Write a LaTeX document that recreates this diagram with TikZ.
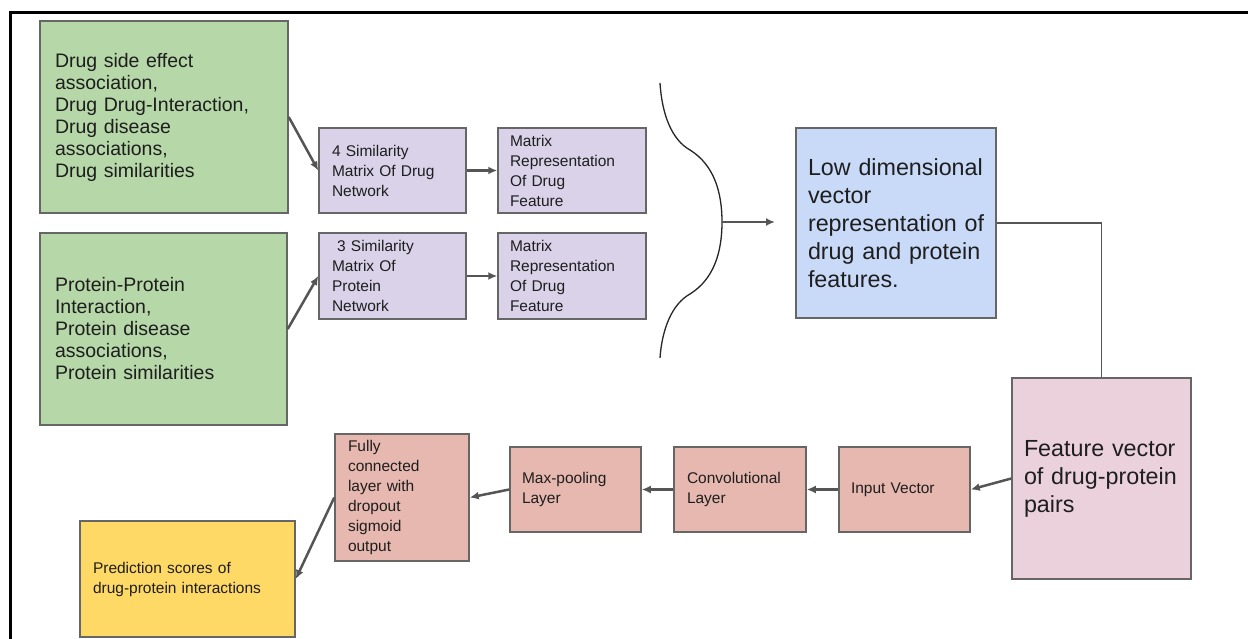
\documentclass[tikz,border=0pt]{standalone}
\usepackage{fontspec}
\setmainfont{Liberation Sans}
\usetikzlibrary{arrows.meta}
\definecolor{bordergray}{HTML}{666666}
\definecolor{arrowgray}{HTML}{555555}
\definecolor{cgreen}{HTML}{B6D7A8}
\definecolor{cpurple}{HTML}{D9D2E9}
\definecolor{cblue}{HTML}{C9DAF8}
\definecolor{cpink}{HTML}{EAD1DC}
\definecolor{csalmon}{HTML}{E6B8AF}
\definecolor{cyellow}{HTML}{FFD966}
\definecolor{txt}{HTML}{1E1E1E}
\tikzset{
  box/.style={draw=bordergray, line width=1.5pt, inner ysep=0pt, align=left, text=txt},
  bigfont/.style={font=\fontsize{23.3}{28}\selectfont},
  midfont/.style={font=\fontsize{19.5}{22}\selectfont},
  smallfont/.style={font=\fontsize{15.5}{20}\selectfont},
  conn/.style={draw=arrowgray, line width=2.5pt, -{Latex[length=9pt,width=8pt]}},
}
\begin{document}
\begin{tikzpicture}[x=1pt,y=-1pt]
\useasboundingbox (0,0) rectangle (1248,639);
\fill[white] (0,0) rectangle (1248,639);
% frame
\draw[line width=3pt, black] (10,639) -- (10,13) -- (1248,13);

% green boxes
\node[box, midfont, fill=cgreen, minimum width=248pt, minimum height=192pt, text width=218pt, inner xsep=15pt] (g1) at (164,117)
 {Drug side effect\\association,\\Drug Drug-Interaction,\\Drug disease\\associations,\\Drug similarities};
\node[box, midfont, fill=cgreen, minimum width=247pt, minimum height=192pt, text width=217pt, inner xsep=15pt] (g2) at (163.5,329)
 {Protein-Protein\\Interaction,\\Protein disease\\associations,\\Protein similarities};

% purple boxes
\node[box, smallfont, fill=cpurple, minimum width=147pt, minimum height=85pt, text width=121pt, inner xsep=13pt] (p1) at (392.5,170.5)
 {4 Similarity\\Matrix Of Drug\\Network};
\node[box, smallfont, fill=cpurple, minimum width=147pt, minimum height=86pt, text width=121pt, inner xsep=13pt] (p2) at (392.5,276)
 {\ 3 Similarity\\Matrix Of\\Protein\\Network};
\node[box, smallfont, fill=cpurple, minimum width=148pt, minimum height=85pt, text width=124pt, inner xsep=12pt] (m1) at (572,170.5)
 {Matrix\\Representation\\Of Drug\\Feature};
\node[box, smallfont, fill=cpurple, minimum width=148pt, minimum height=86pt, text width=124pt, inner xsep=12pt] (m2) at (572,276)
 {Matrix\\Representation\\Of Drug\\Feature};

% blue
\node[box, bigfont, fill=cblue, minimum width=200pt, minimum height=190pt, text width=176pt, inner xsep=12pt] (lv) at (896,223)
 {\mbox{Low dimensional}\\\mbox{vector}\\\mbox{representation of}\\\mbox{drug and protein}\\\mbox{features.}};

% pink feature
\node[box, bigfont, fill=cpink, minimum width=179pt, minimum height=201pt, text width=155pt, inner xsep=12pt] (fv) at (1101.5,478.5)
 {\mbox{Feature vector}\\\mbox{of drug-protein}\\\mbox{pairs}};

% salmon row
\node[box, smallfont, fill=csalmon, minimum width=131pt, minimum height=85pt, text width=107pt, inner xsep=12pt] (iv) at (904.5,489.5)
 {Input Vector};
\node[box, smallfont, fill=csalmon, minimum width=132pt, minimum height=85pt, text width=106pt, inner xsep=13pt] (cv) at (740,489.5)
 {Convolutional\\Layer};
\node[box, smallfont, fill=csalmon, minimum width=131pt, minimum height=85pt, text width=107pt, inner xsep=12pt] (mp) at (575.5,489.5)
 {Max-pooling\\Layer};
\node[box, smallfont, fill=csalmon, minimum width=134pt, minimum height=127pt, text width=108pt, inner xsep=13pt] (fc) at (402,497.5)
 {Fully\\connected\\layer with\\dropout\\sigmoid\\output};

% yellow
\node[box, smallfont, fill=cyellow, minimum width=215pt, minimum height=116pt, text width=189pt, inner xsep=13pt] (ps) at (187.5,579)
 {Prediction scores of\\drug-protein interactions};

% connectors
\draw[conn] (g1.east) -- (p1.west);
\draw[conn] (g2.east) -- (p2.west);
\draw[conn] (p1.east) -- (m1.west);
\draw[conn] (p2.east) -- (m2.west);

% brace
\draw[line width=1.3pt, black!85] (660,83) .. controls (662,115) and (672,140) .. (690,150)
  .. controls (714,165) and (722,192) .. coordinate[pos=1] (bt) (722,222)
  .. controls (722,252) and (714,279) .. (690,294)
  .. controls (672,304) and (662,329) .. (660,358);
\coordinate (bend) at (775,222);
\draw[conn] (bt) -- (bend);

\draw[draw=arrowgray, line width=1.6pt] (lv.east) -| (fv.north);
\draw[conn] (fv.west) -- (iv.east);
\draw[conn] (iv.west) -- (cv.east);
\draw[conn] (cv.west) -- (mp.east);
\draw[conn] (mp.west) -- (fc.east);
\draw[conn] (fc.west) -- (ps.east);
\end{tikzpicture}
\end{document}
